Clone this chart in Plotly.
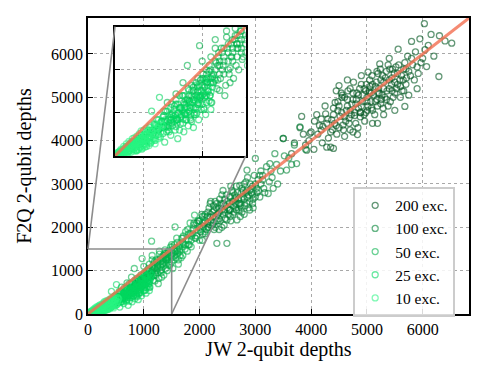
import plotly.graph_objects as go

# JW vs F2Q 2-qubit depths, one list pair per excitation count
jw_200 = [4300, 4350, 4400, 4420, 4480, 4500, 4550, 4600, 4620, 4650, 4700, 4720, 4750, 4800, 4820,
          4850, 4900, 4920, 4950, 4980, 5000, 5020, 5050, 5080, 5100, 5150, 5180, 5200, 5220, 5250,
          5300, 5320, 5350, 5400, 5420, 5450, 5500, 5520, 5550, 5600, 5620, 5680, 5700, 5750, 5800,
          5850, 5900, 3500, 3650, 3800, 3830, 3900, 4000, 4050, 4100, 4150, 4200, 4250, 4350, 4500,
          4600, 4700, 4830, 4900, 5020, 5100, 5190, 5230, 5300, 5400, 5500, 5560, 5680, 5750, 5800,
          5900, 6000, 6030, 6070, 6100, 6200, 6290, 6300, 6400, 6520, 5950, 6150, 4450, 4650, 4750,
          3920, 4280, 4400, 3980, 4560, 4880, 5060, 5260, 5460, 5660,
          4210, 4260, 4310, 4370, 4430, 4460, 4520, 4540, 4570, 4630, 4660, 4680, 4730, 4760, 4780,
          4810, 4840, 4870, 4890, 4930, 4960, 4990, 5010, 5040, 5070, 5090, 5120, 5140, 5170, 5190,
          5210, 5240, 5270, 5290, 5330, 5360, 5380, 5410, 5440, 5470, 5490, 5530, 5570, 5590, 5630,
          5660, 5710, 5730, 5780, 5820, 5870, 5920, 5970, 6040, 4120, 4180, 4060, 3960, 3860, 3700,
          4400, 4450, 4500, 4550, 4600, 4650, 4700, 4750, 4800, 4850, 4900, 4950, 5000, 5050, 5100,
          5150, 5200, 5250, 5300, 5350, 5400, 5450, 5500, 5550, 5600, 5650, 5700, 4580, 4680, 4780,
          4880, 4980, 5080, 5180, 5280, 5380, 4480, 4380, 4280, 4180]
f2q_200 = [4500, 4200, 4750, 4400, 4900, 4300, 4650, 5000, 4450, 4800, 5200, 4600, 4950, 4400, 5100,
           4750, 5300, 4900, 4600, 5150, 5000, 4800, 5400, 5100, 4700, 5250, 4950, 5550, 5100, 4850,
           5350, 5000, 5600, 5200, 4900, 5450, 5100, 5700, 5300, 5000, 5500, 5800, 5300, 5600, 5900,
           5400, 5700, 4050, 3700, 4300, 4560, 3900, 4200, 3800, 4600, 4350, 3950, 4800, 3850, 5270,
           4100, 4250, 4140, 5500, 5580, 4400, 4400, 5770, 4600, 5900, 4700, 6110, 4790, 5050, 6290,
           5200, 5900, 6700, 5710, 6200, 5950, 5480, 6420, 6300, 6250, 6350, 6450, 5150, 5400, 4200,
           3780, 3850, 3820, 4170, 5050, 4650, 5250, 4950, 5650, 5150,
           4330, 4620, 4060, 4480, 4880, 4150, 4560, 5100, 4360, 4700, 5150, 4520, 4850, 5350, 4580,
           4950, 4300, 5200, 4650, 5050, 4450, 5300, 4700, 5150, 4900, 5500, 5050, 4600, 5350, 4800,
           5200, 5650, 5050, 4750, 5450, 5150, 4800, 5650, 5300, 5000, 5550, 5200, 5750, 5400, 5150,
           5650, 5450, 5950, 5500, 5750, 6050, 5550, 5800, 6100, 4150, 4500, 4450, 4000, 4150, 3950,
           4600, 4350, 4800, 5000, 4550, 4950, 4700, 5100, 4850, 5050, 4800, 5200, 4900, 5100, 5300,
           4900, 5100, 5400, 5200, 4950, 5400, 5150, 5350, 5550, 5250, 5400, 5650, 4250, 4400, 4650,
           4550, 4650, 4750, 5600, 5500, 5750, 4700, 4250, 4400, 4250]

jw_100 = [1700, 1800, 1830, 1900, 1950, 2000, 2050, 2070, 2100, 2150, 2190, 2200, 2250, 2300, 2310,
          2310, 2350, 2400, 2450, 2490, 2490, 2500, 2550, 2600, 2650, 2670, 2700, 2720, 2750, 2800,
          2850, 2850, 2900, 2900, 2950, 3000, 3000, 3050, 3080, 3080, 3150, 3230, 3260, 3300, 3350,
          3400, 3500, 3560, 3600, 3740, 3800, 3900, 2200, 2400, 2600, 2800, 2350, 2550, 2750, 2950,
          3100, 2100, 1950, 2250, 2450, 2650, 2380, 2580, 2780, 2150, 2330, 2530, 2730, 2880,
          1880, 1920, 1980, 2020, 2040, 2080, 2120, 2140, 2170, 2210, 2230, 2260, 2280, 2320, 2340,
          2370, 2390, 2420, 2440, 2460, 2480, 2520, 2540, 2560, 2580, 2610, 2630, 2660, 2680, 2710,
          2730, 2760, 2780, 2810, 2830, 2860, 2880, 2910, 2930, 2960, 2980, 3020, 3060, 3100, 3130,
          3170, 3200, 3250, 3280, 3320, 3380, 3450, 3520, 3650, 3700, 2050, 2280, 2620, 2420, 2190,
          2000, 2100, 2150, 2200, 2250, 2300, 2350, 2400, 2450, 2500, 2550, 2600, 2650, 2700, 2750,
          2800, 2850, 2900, 2950, 3000, 2230, 2330, 2430, 2530, 2630, 2730, 2830, 2930, 3030, 3130,
          2060, 2160, 2260, 2360, 2460, 2560, 2660, 2760, 2860, 2960]
f2q_100 = [1750, 1600, 1860, 2100, 1800, 2000, 2250, 2010, 1850, 2350, 2240, 2050, 2500, 2150, 2550,
           1630, 2350, 2000, 2650, 2170, 1630, 2450, 2250, 2800, 2550, 2170, 2400, 2970, 2650, 2300,
           2850, 3320, 2600, 2400, 2950, 2700, 3590, 3100, 2700, 3200, 2900, 2780, 3470, 3150, 3700,
           3000, 4050, 3320, 3600, 3470, 4320, 3800, 2600, 2750, 2300, 3000, 1950, 2700, 2450, 2550,
           3000, 2150, 2100, 2100, 2400, 2700, 2500, 2600, 2850, 2000, 2300, 2400, 2550, 2750,
           1950, 1750, 2150, 1900, 2300, 2100, 1950, 2250, 2450, 2150, 2350, 1950, 2600, 2300, 2450,
           2150, 2550, 2300, 2050, 2500, 2750, 2300, 2550, 2150, 2850, 2500, 2650, 2400, 2800, 2550,
           2250, 2900, 2700, 2500, 3050, 2700, 2450, 3000, 2800, 2650, 3200, 2900, 2850, 3300, 3100,
           2800, 3400, 3050, 3300, 2900, 3450, 3300, 3650, 3450, 3900, 1700, 2000, 2350, 2850, 2550,
           2150, 2300, 2100, 2300, 2250, 2450, 2200, 2400, 2350, 2600, 2400, 2600, 2450, 2650, 2800,
           2650, 2550, 2850, 2750, 3000, 2050, 2150, 2550, 2400, 2750, 2500, 2800, 2900, 2800, 3200,
           1850, 2000, 2400, 2650, 2200, 2950, 2950, 2350, 3150, 2450]

jw_50 = [500, 550, 600, 620, 650, 700, 720, 750, 780, 800, 830, 850, 870, 900, 920, 950, 970, 980,
         1000, 1020, 1050, 1070, 1100, 1110, 1140, 1150, 1180, 1200, 1220, 1250, 1260, 1280, 1300,
         1320, 1350, 1360, 1380, 1400, 1420, 1450, 1480, 1500, 1520, 1550, 1560, 1580, 1600, 1620,
         1650, 1680, 1700, 1720, 1750, 1780, 1800, 1830, 1850, 1880, 1910, 1950, 2000, 2050, 2100,
         1050, 1150, 1250, 1350, 1450, 1550, 1650, 1230, 1330, 1430, 1530, 1630, 1130, 1400, 1600,
         560, 580, 640, 680, 710, 740, 760, 790, 810, 840, 860, 880, 910, 930, 960, 990, 1010, 1030,
         1060, 1080, 1090, 1120, 1160, 1170, 1190, 1210, 1240, 1270, 1290, 1310, 1340, 1370, 1390,
         1410, 1440, 1460, 1490, 1510, 1540, 1570, 1590, 1610, 1640, 1670, 1690, 1710, 1740, 1760,
         1790, 1820, 1860, 1890, 1930, 1970, 2020, 2080, 1180, 1320, 1470, 1620,
         900, 950, 1000, 1050, 1100, 1150, 1200, 1250, 1300, 1350, 1400, 1450, 1500, 1550, 1600,
         1650, 1700, 1750, 1800, 1850, 1100, 1200, 1300, 1400, 1500, 1000, 1150, 1280,
         800, 850, 900, 950, 1000, 1050, 1100, 1150, 1200, 1250, 1300, 1350, 1400, 1450, 1500,
         1180, 1080, 980, 880, 780, 700, 1230, 1330, 1430, 1530, 1130, 1030, 930, 830, 1380]
f2q_50 = [300, 450, 620, 350, 480, 720, 420, 560, 850, 500, 1050, 640, 420, 760, 560, 900, 1280, 680,
          820, 540, 1000, 750, 1150, 620, 1680, 880, 1050, 760, 1250, 950, 700, 1380, 1100,
          850, 1250, 900, 1480, 1150, 1000, 1350, 1550, 1200, 1050, 1450, 2010, 1300, 1650, 1150,
          1500, 1750, 1350, 1600, 1900, 1450, 1700, 2100, 1550, 1850, 2280, 1950, 1700, 2100, 1900,
          850, 1250, 1100, 1100, 1250, 1600, 1350, 1200, 1300, 1400, 1500, 1550, 950, 1300, 1450,
          350, 520, 420, 580, 380, 700, 480, 620, 420, 780, 560, 700, 480, 850, 620, 760, 950, 680,
          860, 1050, 700, 920, 1080, 780, 1200, 900, 1050, 820, 1250, 950, 1150, 1350, 1050,
          1250, 1450, 1120, 1350, 1550, 1250, 1450, 1750, 1400, 1600, 1300, 1550, 1800, 1500, 1700,
          1950, 1600, 1800, 2050, 1750, 2150, 1950, 2250, 880, 1020, 1150, 1250,
          650, 750, 700, 900, 850, 1000, 950, 1150, 1000, 1200, 1300, 1200, 1400, 1350, 1500,
          1450, 1650, 1600, 1850, 1700, 1000, 1100, 1300, 1400, 1600, 1100, 1350, 1450,
          600, 700, 800, 800, 900, 950, 900, 1100, 1050, 1250, 1200, 1350, 1250, 1450, 1300,
          1150, 980, 880, 820, 700, 600, 1000, 1150, 1300, 1400, 850, 800, 700, 650, 1400]

jw_25 = [110, 130, 150, 170, 190, 210, 230, 250, 260, 280, 300, 310, 330, 350, 360, 380, 400, 410,
         420, 430, 450, 460, 480, 500, 510, 520, 540, 560, 570, 590, 600, 620, 640, 650, 670, 690,
         700, 720, 730, 750, 770, 790, 800, 820, 840, 850, 870, 890, 900, 920, 940, 960, 980, 1000,
         1020, 1040, 1060, 1080, 1100, 1120, 440, 540, 640, 740, 840, 940, 610, 710, 810, 910,
         140, 160, 180, 200, 220, 240, 270, 290, 320, 340, 370, 390, 410, 440, 460, 470, 490, 530,
         550, 580, 610, 630, 660, 680, 710, 740, 760, 780, 810, 830, 860, 880, 910, 930, 950, 970,
         990, 1010, 1030, 1050, 1070, 1090, 1110, 350, 430, 520, 600, 690, 780, 870, 960, 300, 400,
         500, 580, 680, 760, 850, 950, 1040,
         450, 470, 500, 520, 550, 570, 600, 620, 650, 670, 700, 720, 750, 770, 800, 820, 850, 870,
         900, 920, 950, 970, 1000, 1020, 1050, 1070, 1100, 1120, 480, 560, 640, 720, 800, 880, 960,
         1040, 620, 700, 780, 860, 940, 1020, 1100, 400, 380, 360, 330, 310, 280, 260, 240, 210, 190,
         660, 740, 820, 900, 980, 1060, 1140]
f2q_25 = [60, 110, 50, 140, 80, 170, 100, 60, 200, 130, 240, 80, 170, 280, 110, 210, 330, 150,
          520, 250, 370, 180, 290, 420, 680, 220, 340, 470, 160, 280, 520, 380, 240, 600, 430, 300,
          650, 200, 500, 370, 700, 280, 560, 420, 350, 760, 480, 620, 330, 820, 550, 420, 700, 600,
          900, 480, 760, 640, 540, 850, 300, 400, 450, 550, 620, 680, 330, 430, 480, 500,
          90, 60, 130, 90, 150, 70, 180, 100, 220, 140, 260, 170, 300, 200, 360, 240, 330, 400,
          260, 420, 300, 480, 350, 540, 420, 300, 560, 430, 650, 500, 620, 400, 720, 480, 650, 800,
          540, 720, 860, 620, 900, 700, 950, 210, 300, 330, 400, 470, 520, 560, 700, 160, 220,
          250, 340, 400, 460, 520, 600, 700,
          280, 350, 310, 380, 330, 400, 350, 430, 380, 460, 420, 500, 450, 530, 480, 560, 520, 600,
          560, 640, 600, 680, 650, 730, 700, 780, 740, 800, 420, 520, 560, 600, 700, 750, 820,
          880, 280, 340, 380, 440, 500, 560, 620, 270, 300, 180, 250, 200, 210, 150, 180, 130, 150,
          500, 560, 610, 680, 760, 820, 900]

jw_10 = [15, 25, 30, 40, 45, 55, 60, 65, 70, 80, 85, 90, 95, 100, 105, 110, 120, 125, 130, 140,
         145, 150, 155, 160, 170, 175, 180, 190, 195, 200, 210, 215, 220, 230, 240, 245, 250, 260,
         270, 275, 285, 290, 300, 310, 320, 330, 340, 350, 360, 375, 390, 400, 420, 440, 460, 480, 500,
         10, 20, 35, 50, 50, 75, 90, 110, 115, 135, 150, 165, 185, 205, 225, 235, 255, 265, 280, 295,
         305, 325, 345, 355, 370, 380, 395, 410, 430, 450, 470, 490, 510, 530, 550, 30, 70, 100, 130,
         160, 180, 200, 220, 250, 280, 300, 330, 360, 400, 450,
         20, 40, 60, 80, 100, 120, 140, 160, 180, 200, 220, 240, 260, 280, 300, 320, 340, 360, 380,
         420, 440, 470, 500, 530]
f2q_10 = [10, 30, 15, 45, 25, 35, 60, 20, 45, 30, 70, 50, 20, 80, 40, 60, 30, 95, 70, 50,
          110, 35, 80, 120, 60, 95, 40, 130, 75, 100, 55, 150, 85, 120, 60, 170, 100, 140,
          75, 190, 115, 160, 90, 210, 130, 180, 100, 240, 150, 200, 120, 260, 170, 230, 140, 300, 200,
          5, 20, 25, 15, 50, 55, 35, 90, 45, 80, 60, 100, 70, 130, 90, 150, 120, 80, 150, 110,
          180, 120, 200, 130, 170, 230, 150, 200, 280, 190, 250, 320, 230, 280, 350, 40, 80, 110, 140,
          170, 160, 200, 210, 230, 260, 290, 300, 320, 350, 380,
          10, 30, 40, 60, 60, 80, 90, 100, 110, 130, 140, 160, 170, 180, 200, 210, 230, 240, 260,
          290, 310, 330, 360, 380]

series = [
    ("200 exc.", jw_200, f2q_200, "rgba(5,88,36,0.62)"),
    ("100 exc.", jw_100, f2q_100, "rgba(0,132,54,0.6)"),
    ("50 exc.", jw_50, f2q_50, "rgba(0,175,72,0.58)"),
    ("25 exc.", jw_25, f2q_25, "rgba(0,215,95,0.58)"),
    ("10 exc.", jw_10, f2q_10, "rgba(40,245,130,0.58)"),
]

AX_MAX = 6830
ZOOM_MAX = 1500
INSET_X = [0.0709, 0.414]
INSET_Y = [0.534, 0.9706]
FONT = "Liberation Serif"

fig = go.Figure()

for name, xs, ys, col in series:
    mk = dict(symbol="circle-open", size=6, color=col, line=dict(width=1.3, color=col))
    fig.add_trace(go.Scatter(x=xs, y=ys, mode="markers", name=name, marker=mk,
                             xaxis="x", yaxis="y"))
    fig.add_trace(go.Scatter(x=xs, y=ys, mode="markers", name=name, marker=mk,
                             xaxis="x2", yaxis="y2", showlegend=False))

diag = dict(color="rgba(242,110,80,0.8)", width=3)
fig.add_trace(go.Scatter(x=[0, AX_MAX], y=[0, AX_MAX], mode="lines", line=diag,
                         showlegend=False, hoverinfo="skip"))
fig.add_trace(go.Scatter(x=[0, ZOOM_MAX], y=[0, ZOOM_MAX], mode="lines", line=diag,
                         xaxis="x2", yaxis="y2", showlegend=False, hoverinfo="skip"))

grid = dict(showgrid=True, gridcolor="#a8a8a8", griddash="dot", gridwidth=1,
            showline=True, linecolor="black", linewidth=1.5, mirror=True,
            zeroline=False, ticks="inside", ticklen=5, tickwidth=1.2, tickcolor="black")

fig.update_layout(
    width=493, height=370,
    margin=dict(l=88, r=24, t=18, b=56),
    paper_bgcolor="white", plot_bgcolor="white",
    font=dict(family=FONT, size=16, color="black"),
    xaxis=dict(range=[0, AX_MAX], tickvals=[0, 1000, 2000, 3000, 4000, 5000, 6000],
               title=dict(text="JW 2-qubit depths", font=dict(size=20), standoff=4), **grid),
    yaxis=dict(range=[0, AX_MAX], tickvals=[0, 1000, 2000, 3000, 4000, 5000, 6000],
               title=dict(text="F2Q 2-qubit depths", font=dict(size=20), standoff=14), **grid),
    xaxis2=dict(domain=INSET_X, anchor="y2", range=[0, ZOOM_MAX], tickvals=[1000],
                showticklabels=False, **grid),
    yaxis2=dict(domain=INSET_Y, anchor="x2", range=[0, ZOOM_MAX], tickvals=[500, 1000],
                showticklabels=False, **grid),
    legend=dict(x=0.696, y=0.43, xanchor="left", yanchor="top",
                bgcolor="rgba(255,255,255,0.85)", bordercolor="#cccccc", borderwidth=2,
                font=dict(size=15.5), itemwidth=30),
)

# zoom box on the main axes and connectors to the inset corners
box = dict(color="#8c8c8c", width=1.6)
fig.add_shape(type="line", xref="x", yref="y", x0=0, y0=ZOOM_MAX, x1=ZOOM_MAX, y1=ZOOM_MAX, line=box)
fig.add_shape(type="line", xref="x", yref="y", x0=ZOOM_MAX, y0=ZOOM_MAX, x1=ZOOM_MAX, y1=0, line=box)
fig.add_shape(type="line", xref="paper", yref="paper", x0=0, y0=ZOOM_MAX / AX_MAX,
              x1=INSET_X[0], y1=INSET_Y[1], line=box)
fig.add_shape(type="line", xref="paper", yref="paper", x0=ZOOM_MAX / AX_MAX, y0=0,
              x1=INSET_X[1], y1=INSET_Y[0], line=box)

fig.write_html("out.html", config={"displayModeBar": False},
               post_script="document.body.style.margin='0';")
